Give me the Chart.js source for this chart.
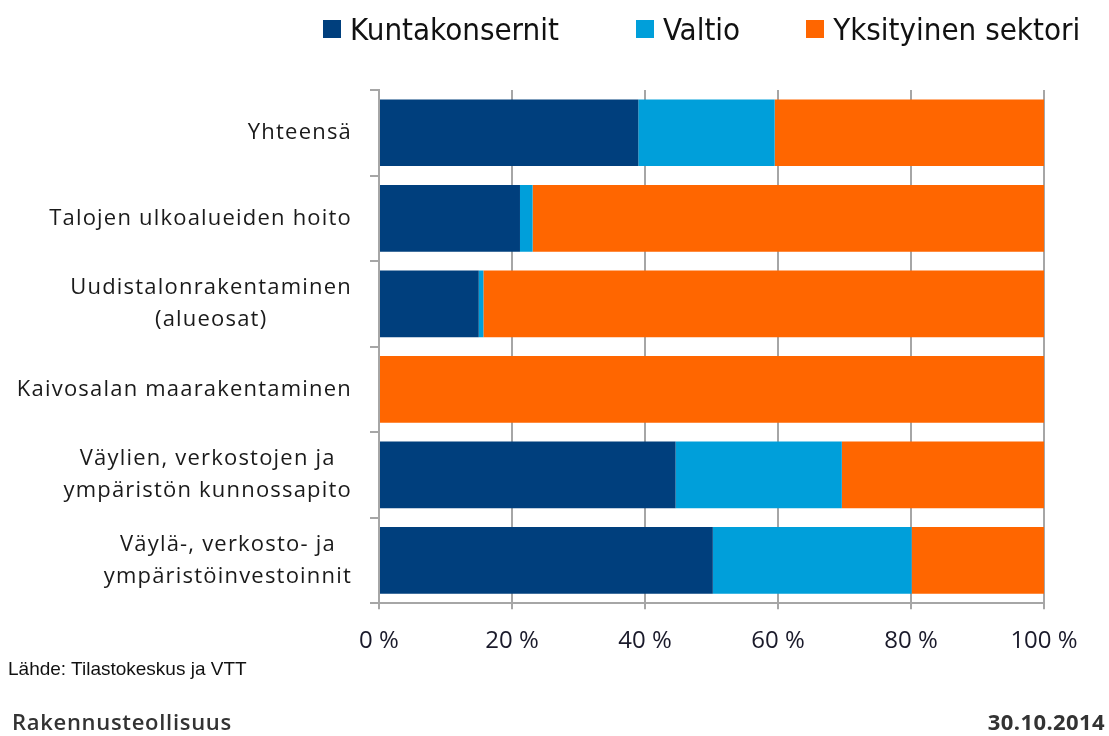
<!DOCTYPE html>
<html>
<head>
<meta charset="utf-8">
<script src="https://cdn.jsdelivr.net/npm/chart.js@4"></script>
<style>
  body { margin: 0; background: #fff; }
  #wrap { position: relative; width: 1109px; height: 736px; }
  #legend { position: absolute; top: 11px; left: 323px; display: flex; align-items: center;
            font-family: "Liberation Sans Narrow", "DejaVu Sans Condensed", sans-serif; font-size: 31px; color: #111; }
  #legend .item { display: flex; align-items: center; }
  #legend .box { width: 18px; height: 18px; margin-right: 9px; }
  .foot { position: absolute; }
</style>
</head>
<body>
<div id="wrap">
  <canvas id="grafica" width="1109" height="736"></canvas>
  <div id="legend"></div>
  <div class="foot" style="left:8px; top:658px; font-family:'Liberation Sans', Arial, sans-serif; font-size:19px; letter-spacing:0px; color:#111;">Lähde: Tilastokeskus ja VTT</div>
  <div class="foot" style="left:12px; top:706px; font-family:'Open Sans', sans-serif; font-weight:600; font-size:22px; letter-spacing:0.7px; color:#333;">Rakennusteollisuus</div>
  <div class="foot" style="right:4px; top:706px; font-family:'Open Sans', sans-serif; font-weight:700; font-size:22px; letter-spacing:0.4px; color:#333;">30.10.2014</div>
</div>
<script>
const categories = [
  'Yhteensä',
  'Talojen ulkoalueiden hoito',
  ['Uudistalonrakentaminen', '(alueosat)'],
  'Kaivosalan maarakentaminen',
  ['Väylien, verkostojen ja', 'ympäristön kunnossapito'],
  ['Väylä-, verkosto- ja', 'ympäristöinvestoinnit']
];
const kuntakonsernit = [39.0, 21.2, 15.0, 0, 44.6, 50.2];
const valtio = [20.5, 1.9, 0.7, 0, 25.0, 29.9];
const yksityinen = [40.5, 76.9, 84.3, 100, 30.4, 19.9];
const xTicks = [0, 20, 40, 60, 80, 100];

const seriesNames = ['Kuntakonsernit', 'Valtio', 'Yksityinen sektori'];
const seriesColors = ['#003f7d', '#009fda', '#ff6600'];
const legendGaps = [77, 66, 0];

// legenda
const leg = document.getElementById('legend');
seriesNames.forEach((n, i) => {
  const it = document.createElement('div');
  it.className = 'item';
  it.style.marginRight = legendGaps[i] + 'px';
  it.innerHTML = '<div class="box" style="background:' + seriesColors[i] + '"></div><span>' + n + '</span>';
  leg.appendChild(it);
});

const labelFont = '22px "Open Sans", sans-serif';

// etiketit: rivit keskitetty, lohko oikealle
const yLabels = {
  id: 'yLabels',
  afterDraw(chart) {
    const y = chart.scales.y;
    const ctx = chart.ctx;
    ctx.save();
    ctx.font = labelFont;
    ctx.letterSpacing = '1.2px';
    ctx.fillStyle = '#1a1a1a';
    ctx.textAlign = 'center';
    ctx.textBaseline = 'middle';
    const right = 352;
    const lh = 32;
    categories.forEach((c, i) => {
      const lines = Array.isArray(c) ? c : [c];
      const w = Math.max(...lines.map(l => ctx.measureText(l).width));
      const cy = y.getPixelForTick(i);
      lines.forEach((l, k) => {
        ctx.fillText(l, right - w / 2, cy + (k - (lines.length - 1) / 2) * lh);
      });
    });
    ctx.restore();
  }
};

const ctx = document.getElementById('grafica');
new Chart(ctx, {
  type: 'bar',
  data: {
    labels: categories,
    datasets: [
      { label: seriesNames[0], data: kuntakonsernit, backgroundColor: seriesColors[0] },
      { label: seriesNames[1], data: valtio, backgroundColor: seriesColors[1] },
      { label: seriesNames[2], data: yksityinen, backgroundColor: seriesColors[2] }
    ]
  },
  options: {
    indexAxis: 'y',
    responsive: false,
    animation: false,
    layout: { padding: { top: 90, right: 65, bottom: 62, left: 0 } },
    datasets: { bar: { categoryPercentage: 1, barPercentage: 0.78 } },
    plugins: { legend: { display: false }, tooltip: { enabled: false } },
    scales: {
      x: {
        stacked: true,
        min: 0, max: 100,
        afterBuildTicks: s => { s.ticks = xTicks.map(v => ({ value: v })); },
        ticks: {
          callback: v => v + ' %',
          font: { family: 'Open Sans', size: 24 },
          color: '#1a1a2a',
          padding: 18,
          maxRotation: 0
        },
        grid: { color: '#a6a6a6', lineWidth: 2, tickLength: 6 },
        border: { color: '#a6a6a6', width: 2 }
      },
      y: {
        stacked: true,
        afterFit: s => { s.width = 379; },
        ticks: { display: false },
        grid: { drawOnChartArea: false, color: '#a6a6a6', lineWidth: 2, tickLength: 9, offset: true },
        border: { color: '#a6a6a6', width: 2 }
      }
    }
  },
  plugins: [yLabels]
});
</script>
</body>
</html>
